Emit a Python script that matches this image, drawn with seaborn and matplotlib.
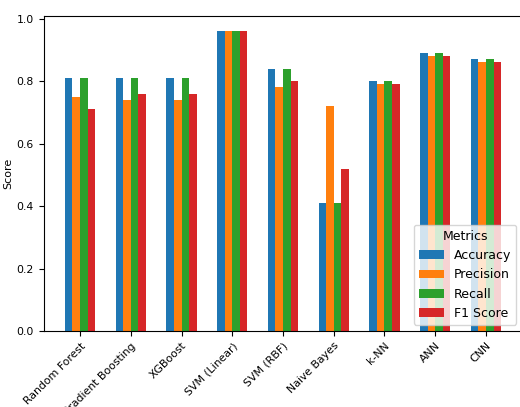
import matplotlib
matplotlib.use("Agg")
import matplotlib.pyplot as plt
import seaborn as sns
import pandas as pd

# --- data ---
models = ["Random Forest", "Gradient Boosting", "XGBoost", "SVM (Linear)", "SVM (RBF)",
          "Naive Bayes", "k-NN", "ANN", "CNN"]
accuracy = [0.81, 0.81, 0.81, 0.96, 0.84, 0.41, 0.80, 0.89, 0.87]
precision = [0.75, 0.74, 0.74, 0.96, 0.78, 0.72, 0.79, 0.88, 0.86]
recall = [0.81, 0.81, 0.81, 0.96, 0.84, 0.41, 0.80, 0.89, 0.87]
f1_score = [0.71, 0.76, 0.76, 0.96, 0.80, 0.52, 0.79, 0.88, 0.86]
metrics = ["Accuracy", "Precision", "Recall", "F1 Score"]

df = pd.DataFrame({"Model": models, "Accuracy": accuracy, "Precision": precision,
                   "Recall": recall, "F1 Score": f1_score})
df_long = df.melt(id_vars="Model", var_name="Metrics", value_name="Score")

colors = ["#1f77b4", "#ff7f0e", "#2ca02c", "#d62728"]

fig = plt.figure(figsize=(5.2, 4.07), dpi=100)
ax = fig.add_axes([43.5 / 520, 76 / 407, 479 / 520, 315.5 / 407])

sns.barplot(data=df_long, x="Model", y="Score", hue="Metrics", hue_order=metrics,
            palette=colors, saturation=1, width=0.6, ax=ax, errorbar=None)

ax.set_xlim(-0.72, 8.72)
ax.set_ylim(0, 1.01)
ax.set_xlabel("")
ax.set_ylabel("Score", fontsize=8)
ax.yaxis.set_label_coords(-0.064, 0.5)
ax.tick_params(axis="both", labelsize=7.8)
plt.setp(ax.get_xticklabels(), rotation=45, ha="right", rotation_mode="anchor")
ax.legend(title="Metrics", loc="lower right", fontsize=9, title_fontsize=9)

fig.savefig("out.png", dpi=100)
